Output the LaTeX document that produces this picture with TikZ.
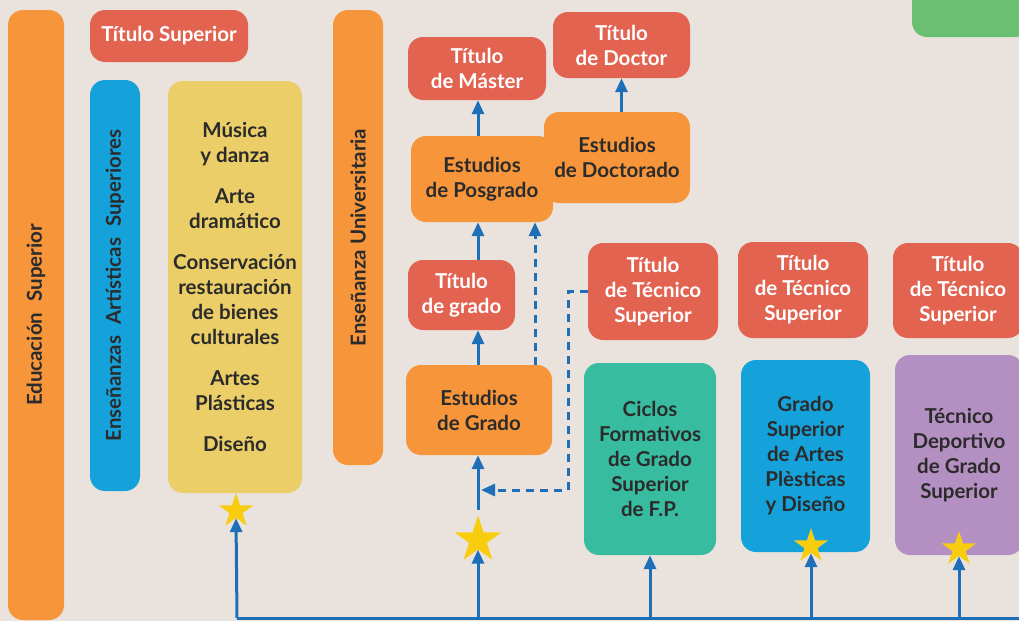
\documentclass[tikz,border=0pt]{standalone}
\usepackage{fontspec}
\setmainfont{Lato}
\usetikzlibrary{arrows.meta,shapes.geometric}
\definecolor{bg}{HTML}{EAE3DD}
\definecolor{orng}{HTML}{F7953A}
\definecolor{redb}{HTML}{E36351}
\definecolor{blueb}{HTML}{15A2DB}
\definecolor{yell}{HTML}{EBCE67}
\definecolor{teal}{HTML}{37BCA0}
\definecolor{purp}{HTML}{B48FC1}
\definecolor{grn}{HTML}{6ABF70}
\definecolor{arrc}{HTML}{1D6FB8}
\definecolor{ink}{HTML}{2B2B2B}
\definecolor{stary}{HTML}{F9CD0F}
\begin{document}
\begin{tikzpicture}[x=1pt,y=-1pt,
  box/.style={rounded corners=15pt, inner sep=0pt, align=center,
    font=\fontsize{20.5}{25}\selectfont\bfseries, text=ink},
  redbox/.style={box, fill=redb, text=white},
  starnode/.style={star, star points=5, star point ratio=2.6, fill=stary, inner sep=0pt, draw=none},
  conn/.style={draw=arrc, line width=3pt},
  arr/.style={conn, -{Triangle[length=14pt,width=12pt]}},
  dsh/.style={dash pattern=on 8pt off 6pt}
]
\fill[bg] (0,0) rectangle (1019,621);
\useasboundingbox (0,0) rectangle (1019,621);

% left column
\node[box, fill=orng, rotate=90, minimum width=610, minimum height=56] (edu) at (36,315) {Educación\hspace{0.3em} Superior};
\node[redbox, minimum width=158, minimum height=52] (tsup) at (169,36) {Título Superior};
\node[box, fill=blueb, rotate=90, minimum width=411, minimum height=50] (eas) at (115,285.5) {Enseñanzas\hspace{0.3em} Artísticas\hspace{0.3em} Superiores};
\node[box, fill=yell, minimum width=134, minimum height=412] (artes) at (235,287) {Música\\y danza\\[16pt]Arte\\dramático\\[16pt]Conservación\\restauración\\de bienes\\culturales\\[16pt]Artes\\Plásticas\\[16pt]Diseño};
\node[box, fill=orng, rotate=90, minimum width=455, minimum height=50] (univ) at (358,237.5) {Enseñanza Universitaria};

% university column
\node[redbox, minimum width=138, minimum height=63] (master) at (477,68.5) {Título\\de Máster};
\node[redbox, minimum width=137, minimum height=66] (doctor) at (621.5,45) {Título\\de Doctor};
\node[box, fill=orng, minimum width=142, minimum height=86] (posgrado) at (482,179) {Estudios\\de Posgrado};
\node[box, fill=orng, minimum width=146, minimum height=91] (doctorado) at (617,157.5) {Estudios\\de Doctorado};
\node[redbox, minimum width=107, minimum height=70] (tgrado) at (461.5,295) {Título\\de grado};
\node[box, fill=orng, minimum width=146, minimum height=90] (grado) at (479,410) {Estudios\\de Grado};

% technical
\node[redbox, minimum width=130, minimum height=97] (tts1) at (653,291.5) {Título\\de Técnico\\Superior};
\node[redbox, minimum width=130, minimum height=96] (tts2) at (803,290) {Título\\de Técnico\\Superior};
\node[redbox, minimum width=130, minimum height=95] (tts3) at (958,290.5) {Título\\de Técnico\\Superior};
\node[box, fill=teal, minimum width=132, minimum height=192] (ciclos) at (650,459) {Ciclos\\Formativos\\de Grado\\Superior\\de F.P.};
\node[box, fill=blueb, minimum width=129, minimum height=192] (gsap) at (805.5,456) {Grado\\Superior\\de Artes\\Plèsticas\\y Diseño};
\node[box, fill=purp, minimum width=128, minimum height=200] (tdep) at (959,455) {Técnico\\Deportivo\\de Grado\\Superior};
\node[box, fill=grn, minimum width=118, minimum height=50] (green) at (971,12) {};

% stars
\node[starnode, minimum size=36] (star1) at (236,511) {};
\node[starnode, minimum size=49] (star2) at (478,540) {};
\node[starnode, minimum size=36] (star3) at (811,546) {};
\node[starnode, minimum size=36] (star4) at (959,549) {};

% connectors
\coordinate (base0) at (237,618);
\coordinate (baseR) at (1019,618);
\draw[conn] (base0) -- (baseR);
\draw[arr] (base0) -- (star1.south);
\draw[arr] (base0 -| star2) -- (star2.south);
\draw[arr] (base0 -| ciclos) -- (ciclos.south);
\draw[arr] (base0 -| star3) -- (star3.south);
\draw[arr] (base0 -| star4) -- (star4.south);
\coordinate (gstart) at (478,510);
\draw[arr] (gstart) -- (gstart |- grado.south);
\draw[arr] (gstart |- grado.north) -- (gstart |- tgrado.south);
\draw[arr] (gstart |- tgrado.north) -- (gstart |- posgrado.south);
\draw[arr] (gstart |- posgrado.north) -- (gstart |- master.south);
\draw[arr] (doctorado.north -| doctor) -- (doctor.south);
\coordinate (dx) at (535,0);
\draw[arr, dsh] (grado.north -| dx) -- (posgrado.south -| dx);
\coordinate (dturn) at (568,490);
\coordinate (dend) at (481,490);
\draw[arr, dsh] (tts1.west) -| (dturn) -- (dend);
\end{tikzpicture}
\end{document}
